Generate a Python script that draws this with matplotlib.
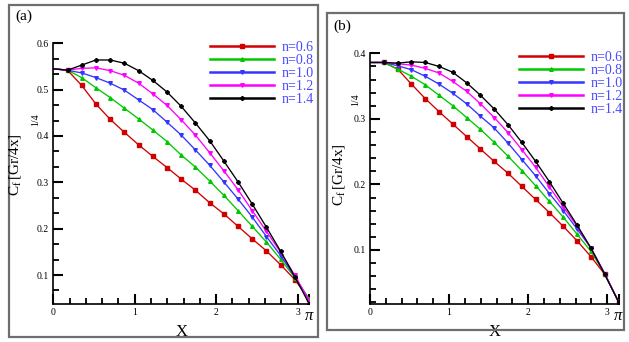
import numpy as np
import matplotlib
matplotlib.use('Agg')
import matplotlib.pyplot as plt
from matplotlib.ticker import MultipleLocator
from matplotlib.patches import Rectangle

plt.rcParams['font.family'] = ['Liberation Serif', 'DejaVu Serif']
plt.rcParams['mathtext.fontset'] = 'custom'
plt.rcParams['mathtext.rm'] = 'Liberation Serif'
plt.rcParams['mathtext.it'] = 'Liberation Serif:italic'

# x positions: every 10 degrees from 0 to pi
x = np.arange(19) * np.pi / 18

labels = ['n=0.6', 'n=0.8', 'n=1.0', 'n=1.2', 'n=1.4']
colors = ['#d00000', '#00c800', '#3535ff', '#ff00ff', '#000000']
markers = ['s', '^', 'v', 'v', 'P']

# panel (a)
cf_a = {
    'n=0.6': [0.545, 0.542, 0.509, 0.469, 0.436, 0.408, 0.381, 0.356, 0.332, 0.307,
              0.283, 0.256, 0.232, 0.205, 0.178, 0.152, 0.122, 0.090, 0.048],
    'n=0.8': [0.545, 0.542, 0.526, 0.504, 0.483, 0.460, 0.437, 0.413, 0.388, 0.359,
              0.333, 0.303, 0.272, 0.239, 0.205, 0.171, 0.134, 0.094, 0.049],
    'n=1.0': [0.545, 0.542, 0.536, 0.526, 0.514, 0.499, 0.478, 0.457, 0.430, 0.402,
              0.370, 0.337, 0.301, 0.264, 0.225, 0.183, 0.142, 0.096, 0.045],
    'n=1.2': [0.545, 0.542, 0.546, 0.547, 0.541, 0.531, 0.514, 0.491, 0.466, 0.435,
              0.402, 0.364, 0.325, 0.284, 0.239, 0.194, 0.149, 0.099, 0.045],
    'n=1.4': [0.545, 0.542, 0.553, 0.564, 0.564, 0.557, 0.541, 0.520, 0.495, 0.464,
              0.428, 0.390, 0.346, 0.301, 0.253, 0.203, 0.151, 0.096, 0.038],
}

# panel (b)
cf_b = {
    'n=0.6': [0.386, 0.386, 0.376, 0.353, 0.331, 0.311, 0.292, 0.273, 0.254, 0.235,
              0.217, 0.197, 0.177, 0.157, 0.136, 0.114, 0.090, 0.063, 0.021],
    'n=0.8': [0.386, 0.386, 0.376, 0.365, 0.352, 0.336, 0.320, 0.302, 0.284, 0.264,
              0.243, 0.221, 0.198, 0.174, 0.150, 0.124, 0.098, 0.064, 0.021],
    'n=1.0': [0.386, 0.386, 0.381, 0.375, 0.365, 0.353, 0.339, 0.323, 0.304, 0.286,
              0.263, 0.238, 0.213, 0.186, 0.160, 0.132, 0.103, 0.064, 0.021],
    'n=1.2': [0.386, 0.386, 0.384, 0.382, 0.377, 0.370, 0.357, 0.342, 0.323, 0.302,
              0.279, 0.253, 0.226, 0.196, 0.166, 0.136, 0.103, 0.064, 0.021],
    'n=1.4': [0.386, 0.386, 0.385, 0.387, 0.386, 0.380, 0.371, 0.355, 0.336, 0.315,
              0.291, 0.264, 0.235, 0.204, 0.171, 0.138, 0.103, 0.063, 0.021],
}

xticks = [0, 1, 2, 3, np.pi]
xticklabels = ['0', '1', '2', '3', r'$\pi$']

W, H = 629, 342
fig = plt.figure(figsize=(W / 100, H / 100), dpi=100)


def px(x0, y0, x1, y1):
    # pixel box -> figure fraction [left, bottom, width, height]
    return [x0 / W, 1 - y1 / H, (x1 - x0) / W, (y1 - y0) / H]


# panel frames
for (x0, y0, x1, y1) in [(9, 5, 318, 337), (327, 13, 624, 330)]:
    fig.add_artist(Rectangle((x0 / W, 1 - y1 / H), (x1 - x0) / W, (y1 - y0) / H,
                             transform=fig.transFigure, fill=False,
                             edgecolor='#6e6e6e', linewidth=1.6))

ax_a = fig.add_axes(px(53.3, 43.3, 309.1, 304))
ax_b = fig.add_axes(px(370, 53.3, 618.5, 304))


def style(ax, data, ylim, ymajor, yminor, ytl):
    for lab, c, m in zip(labels, colors, markers):
        ax.plot(x, data[lab], color=c, lw=0.95, marker=m, ms=2.6,
                markevery=list(range(1, len(x))), label=lab)
    ax.set_xlim(0, np.pi)
    ax.set_ylim(*ylim)
    ax.spines['top'].set_visible(False)
    ax.spines['right'].set_visible(False)
    ax.spines['left'].set_linewidth(1.2)
    ax.spines['bottom'].set_linewidth(1.2)
    ax.set_xticks(xticks)
    ax.set_xticklabels(xticklabels)
    ax.xaxis.set_minor_locator(MultipleLocator(0.2))
    ax.set_yticks(ymajor)
    ax.set_yticklabels(ytl)
    ax.yaxis.set_minor_locator(MultipleLocator(yminor))
    ax.tick_params(which='both', direction='in', colors='black',
                   labelcolor='black', top=False, right=False)
    ax.tick_params(which='major', length=7, width=1.5, labelsize=7, pad=3)
    ax.tick_params(which='minor', length=4.5, width=1.3)
    ax.get_xticklabels()[-1].set_fontsize(12)
    ax.set_xlabel('X', fontsize=12, labelpad=0)
    leg = ax.legend(loc='upper right', bbox_to_anchor=(1.04, 1.03), frameon=False,
                    fontsize=10, handlelength=4.6, handletextpad=0.55,
                    labelspacing=0.0, borderaxespad=0, labelcolor='#4a4aff')
    for h in leg.legend_handles:
        h.set_linewidth(1.8)
    return leg


style(ax_a, cf_a, (0.0375, 0.6), [0.1, 0.2, 0.3, 0.4, 0.5, 0.6], 0.1 / 3,
      ['0.1', '0.2', '0.3', '0.4', '0.5', '0.6'])
style(ax_b, cf_b, (0.0176, 0.4), [0.1, 0.2, 0.3, 0.4], 0.02,
      ['0.1', '0.2', '0.3', '0.4'])

# panel letters
fig.text(15 / W, 1 - 16 / H, '(a)', fontsize=11, va='center', ha='left')
fig.text(333 / W, 1 - 26 / H, '(b)', fontsize=11, va='center', ha='left')

# y labels (exponent sits off to the right as in the original)
fig.text(15 / W, 1 - 165 / H, r'$\mathrm{C_f\,[Gr/4x]}$', rotation=90,
         fontsize=11, va='center', ha='center')
fig.text(36 / W, 1 - 120 / H, '1/4', rotation=90, fontsize=7, va='center', ha='center')
fig.text(339 / W, 1 - 175 / H, r'$\mathrm{C_f\,[Gr/4x]}$', rotation=90,
         fontsize=11, va='center', ha='center')
fig.text(356 / W, 1 - 100 / H, '1/4', rotation=90, fontsize=7, va='center', ha='center')

fig.savefig('out.png', dpi=100)
